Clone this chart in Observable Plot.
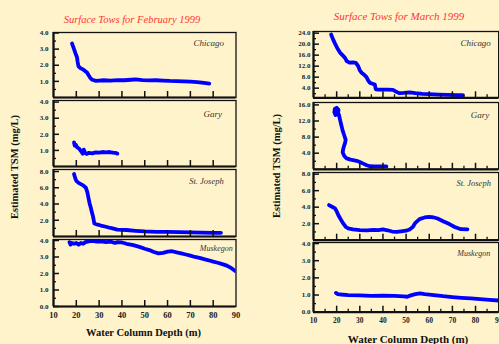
<!DOCTYPE html>
<html><head><meta charset="utf-8">
<script src="https://cdn.jsdelivr.net/npm/d3@7"></script>
<script src="https://cdn.jsdelivr.net/npm/@observablehq/plot@0.6"></script>
<style>
html,body{margin:0;padding:0;background:#fff3cc;overflow:hidden;}
#chart{position:relative;width:499px;height:344px;overflow:hidden;background:#fff3cc;font-family:"Liberation Serif",serif;}
#chart svg{position:absolute;overflow:visible;}
.abs{position:absolute;white-space:nowrap;line-height:1;}
.title{color:#ff3333;font-style:italic;transform:translate(-50%,-50%);}
.xt{font-weight:bold;color:#111;transform:translate(-50%,-50%);}
.yt{font-weight:bold;color:#111;transform:translate(-50%,-50%) rotate(-90deg);}
</style></head><body><div id="chart"></div><script>
// ---------- data ----------
const stations = ["Chicago", "Gary", "St. Joseph", "Muskegon"];
const titles = ["Surface Tows for February 1999", "Surface Tows for March 1999"];
const xTitle = "Water Column Depth (m)";
const yTitle = "Estimated TSM (mg/L)";
const depthTicks = [10, 20, 30, 40, 50, 60, 70, 80, 90];

const febYTicks = [[1, 2, 3, 4], [1, 2, 3, 4], [2, 4, 6, 8], [0, 1, 2, 3, 4]];
const marYTicks = [[4, 8, 12, 16, 20, 24], [4, 8, 12, 16], [2, 4, 6, 8], [0, 1, 2, 3, 4]];

// [depth (m), TSM (mg/L)]
const febChicago = [[18.1,3.35],[18.5,3.2],[19,3.0],[19.6,2.75],[20.3,2.5],[20.6,2.2],[20.9,1.95],[21.8,1.82],[22.8,1.75],[23.8,1.65],[24.7,1.55],[25.4,1.38],[26.1,1.22],[27,1.1],[28.6,1.03],[30,1.05],[32,1.07],[35,1.05],[38,1.08],[41,1.07],[44,1.1],[46,1.12],[49,1.08],[52,1.06],[55,1.07],[58,1.05],[61,1.03],[64,1.02],[67,1.0],[70,0.98],[73,0.95],[76,0.9],[78.3,0.86]];
const febGary = [[19,1.5],[19.3,1.3],[19.8,1.35],[20.3,1.2],[20.8,1.15],[21.3,1.1],[21.8,1.0],[22.3,0.9],[22.8,0.8],[23.3,1.05],[23.8,0.85],[24.5,0.78],[25.5,0.85],[27,0.82],[28.5,0.88],[30,0.86],[31.5,0.9],[33,0.88],[34.5,0.9],[36,0.86],[37,0.85],[38,0.8]];
const febStJoseph = [[19,7.7],[19.5,7.2],[20,6.85],[21,6.6],[22,6.45],[23,6.3],[24.2,6.0],[24.8,5.5],[25.3,4.8],[25.8,4.1],[26.4,3.5],[26.8,3.0],[27.3,2.5],[27.9,1.6],[29,1.5],[30.8,1.35],[33,1.2],[35,1.05],[38,0.85],[42,0.8],[46,0.7],[50,0.62],[55,0.58],[60,0.57],[65,0.55],[70,0.52],[75,0.48],[80,0.45],[83.4,0.45]];
const febMuskegon = [[17,3.9],[17.5,3.75],[18,3.85],[19,3.8],[20,3.85],[21,3.75],[22,3.85],[23,3.8],[24,3.9],[25.5,3.95],[27,3.98],[29,3.93],[31,3.95],[33,3.9],[35,3.93],[37,3.85],[38,3.9],[40,3.88],[42,3.8],[45,3.72],[48,3.6],[50,3.5],[52,3.42],[54,3.3],[56,3.22],[58,3.25],[60,3.32],[62,3.35],[64,3.28],[66,3.22],[68,3.15],[70,3.08],[72,3.0],[74,2.95],[76,2.87],[78,2.8],[80,2.72],[82,2.65],[84,2.57],[86,2.48],[88,2.32],[90,2.12]];

const marChicago = [[17.6,23.5],[18.3,22],[19.3,20.2],[20.3,18.5],[21.5,16.9],[22.5,16],[23.6,15],[24.4,13.8],[25.5,13.3],[27,13.4],[28.3,13.2],[29.3,12],[30,10.5],[30.8,9.6],[32,8.8],[32.9,8],[33.6,6.8],[34.3,6.0],[35.5,5.6],[36.5,5.3],[36.9,3.6],[38,3.5],[40,3.5],[42,3.5],[44.3,3.4],[45.5,2.8],[47,2.2],[49,2.3],[51.5,2.5],[54,2.2],[57,1.9],[60,1.8],[64,1.65],[68,1.55],[72,1.5],[74.5,1.45]];
const marGary = [[19.5,13.5],[19,14.2],[19.2,15],[20,15.3],[20.8,14.8],[20.6,14],[20,13.6],[19.6,14.2],[20.3,14.5],[21,13.5],[21.5,12.2],[22,11],[22.6,9.6],[23.3,8.4],[23.9,7.3],[23.6,6.5],[23.2,5.8],[22.8,5],[22.6,4.2],[23.3,3.3],[24.3,2.7],[26,2.4],[28.6,2.1],[30,1.8],[31.5,1.4],[33,1.0],[34.3,0.75],[36,0.7],[38,0.7],[40,0.72],[41.5,0.72]];
const marStJoseph = [[16.7,4.25],[18,4.05],[19.3,3.85],[20,3.5],[20.7,3.05],[21.8,2.5],[22.9,2.0],[24,1.6],[25,1.42],[27,1.3],[30,1.22],[33,1.2],[36,1.25],[38,1.22],[40,1.3],[42,1.2],[44,1.05],[46,1.0],[48.6,1.1],[50,1.15],[51.5,1.3],[52.9,1.6],[54,2.1],[55.8,2.55],[58,2.75],[60,2.82],[62,2.75],[63.6,2.63],[66,2.3],[68.7,1.95],[71,1.6],[73.7,1.33],[76.5,1.3]];
const marMuskegon = [[19.7,1.12],[20.5,1.05],[22,1.03],[25,1.0],[30,0.98],[35,0.95],[40,0.97],[45,0.95],[49,0.92],[50.5,0.9],[52,0.98],[54,1.05],[56,1.1],[58,1.05],[60,1.02],[63,0.98],[66,0.93],[70,0.88],[74,0.84],[78,0.8],[82,0.76],[86,0.72],[90,0.68]];

const febSeries = [febChicago, febGary, febStJoseph, febMuskegon];
const marSeries = [marChicago, marGary, marStJoseph, marMuskegon];

// ---------- layout ----------
const groups = [
  {
    series: febSeries, yTicks: febYTicks,
    yDomains: [[0, 4.03], [0, 4.1], [0, 8.25], [0, 4.06]],
    xr: [52.5, 235],
    rows: [[32, 97], [100, 166], [169, 236], [239, 306]],
    labelOff: [[-12, 11], [-14, 13.3], [-12.3, 12], [-3.3, 9]],
    labelSize: [9, 9, 8.5, 8],
    xMinor: false, yFont: 7, yPad: 5, xFont: 8.5, xPad: 5,
    title: {x: 132, y: 19.5, size: 10.5},
    xt: {x: 143.5, y: 333, size: 10.5},
    yt: {x: 15, y: 167, size: 10.5}
  },
  {
    series: marSeries, yTicks: marYTicks,
    yDomains: [[0.5, 24.6], [0, 16.6], [0, 8.2], [0, 4.06]],
    xr: [313.3, 498.5],
    rows: [[30.7, 97], [101.7, 168.5], [172.3, 240], [242.3, 312]],
    labelOff: [[-7.8, 11.3], [-9.5, 12.6], [-7.8, 11], [-8.5, 11]],
    labelSize: [9, 9, 8.5, 8],
    xMinor: true, yFont: 7, yPad: 3, xFont: 7.5, xPad: 5,
    title: {x: 399, y: 16, size: 11},
    xt: {x: 408, y: 338.5, size: 11},
    yt: {x: 276.5, y: 166, size: 10.5}
  }
];

const chart = document.getElementById("chart");
const ML = 34, MR = 2, MT = 2;
const fmt = d3.format(".1f");

groups.forEach(g => {
  g.series.forEach((data, i) => {
    const [top, bottom] = g.rows[i];
    const showX = i === 3;
    const MB = showX ? 20 : 2;
    const innerW = g.xr[1] - g.xr[0];
    const innerH = bottom - top;
    const yT = g.yTicks[i];
    const step = yT[1] - yT[0];
    const yDom = g.yDomains[i];
    const yMinor = d3.range(yT[0] - step / 2, yDom[1], step).filter(v => v > yDom[0] && !yT.includes(v));
    const xMajor = depthTicks.slice(1, -1);
    const xMinor = g.xMinor ? d3.range(15, 90, 10) : [];
    const svg = Plot.plot({
      width: innerW + ML + MR,
      height: innerH + MT + MB,
      marginLeft: ML, marginRight: MR, marginTop: MT, marginBottom: MB,
      x: {domain: [depthTicks[0], depthTicks[depthTicks.length - 1]], axis: null},
      y: {domain: yDom, axis: null},
      style: {background: "transparent", fontFamily: "Liberation Serif", color: "#111", overflow: "visible"},
      marks: [
        Plot.line(data, {x: d => d[0], y: d => d[1], stroke: "#0000ff", strokeWidth: 3.8, strokeLinejoin: "round", strokeLinecap: "round", clip: true}),
        Plot.tickY(yT, {y: d => d, insetRight: innerW - 6, stroke: "#111", strokeWidth: 1.5}),
        Plot.tickY(yMinor, {y: d => d, insetRight: innerW - 3, stroke: "#111", strokeWidth: 1.3}),
        Plot.tickX(xMajor, {x: d => d, insetTop: innerH - 6, stroke: "#111", strokeWidth: 1.5}),
        Plot.tickX(xMinor, {x: d => d, insetTop: innerH - 3, stroke: "#111", strokeWidth: 1.3}),
        Plot.frame({stroke: "#111", strokeWidth: 1.3}),
        Plot.ruleX([depthTicks[0]], {stroke: "#111", strokeWidth: 2.2}),
        Plot.ruleY([yDom[0]], {stroke: "#111", strokeWidth: 2.2}),
        Plot.axisY(yT, {tickSize: 0, tickPadding: g.yPad, tickFormat: fmt, fontSize: g.yFont, fontWeight: "bold", fill: "#222", label: null}),
        showX ? Plot.axisX(depthTicks, {tickSize: 0, tickPadding: g.xPad, fontSize: g.xFont, fontWeight: "bold", fill: "#222", label: null}) : null,
        Plot.text([stations[i]], {text: d => d, frameAnchor: "top-right", textAnchor: "end", lineAnchor: "middle",
          dx: g.labelOff[i][0], dy: g.labelOff[i][1], fontStyle: "italic", fontSize: g.labelSize[i], fill: "#333"})
      ]
    });
    svg.style.left = (g.xr[0] - ML) + "px";
    svg.style.top = (top - MT) + "px";
    chart.appendChild(svg);
  });
});

function addText(cls, txt, pos) {
  const d = document.createElement("div");
  d.className = "abs " + cls;
  d.textContent = txt;
  d.style.left = pos.x + "px";
  d.style.top = pos.y + "px";
  d.style.fontSize = pos.size + "px";
  chart.appendChild(d);
}
groups.forEach((g, k) => {
  addText("title", titles[k], g.title);
  addText("xt", xTitle, g.xt);
  addText("yt", yTitle, g.yt);
});
</script></body></html>
